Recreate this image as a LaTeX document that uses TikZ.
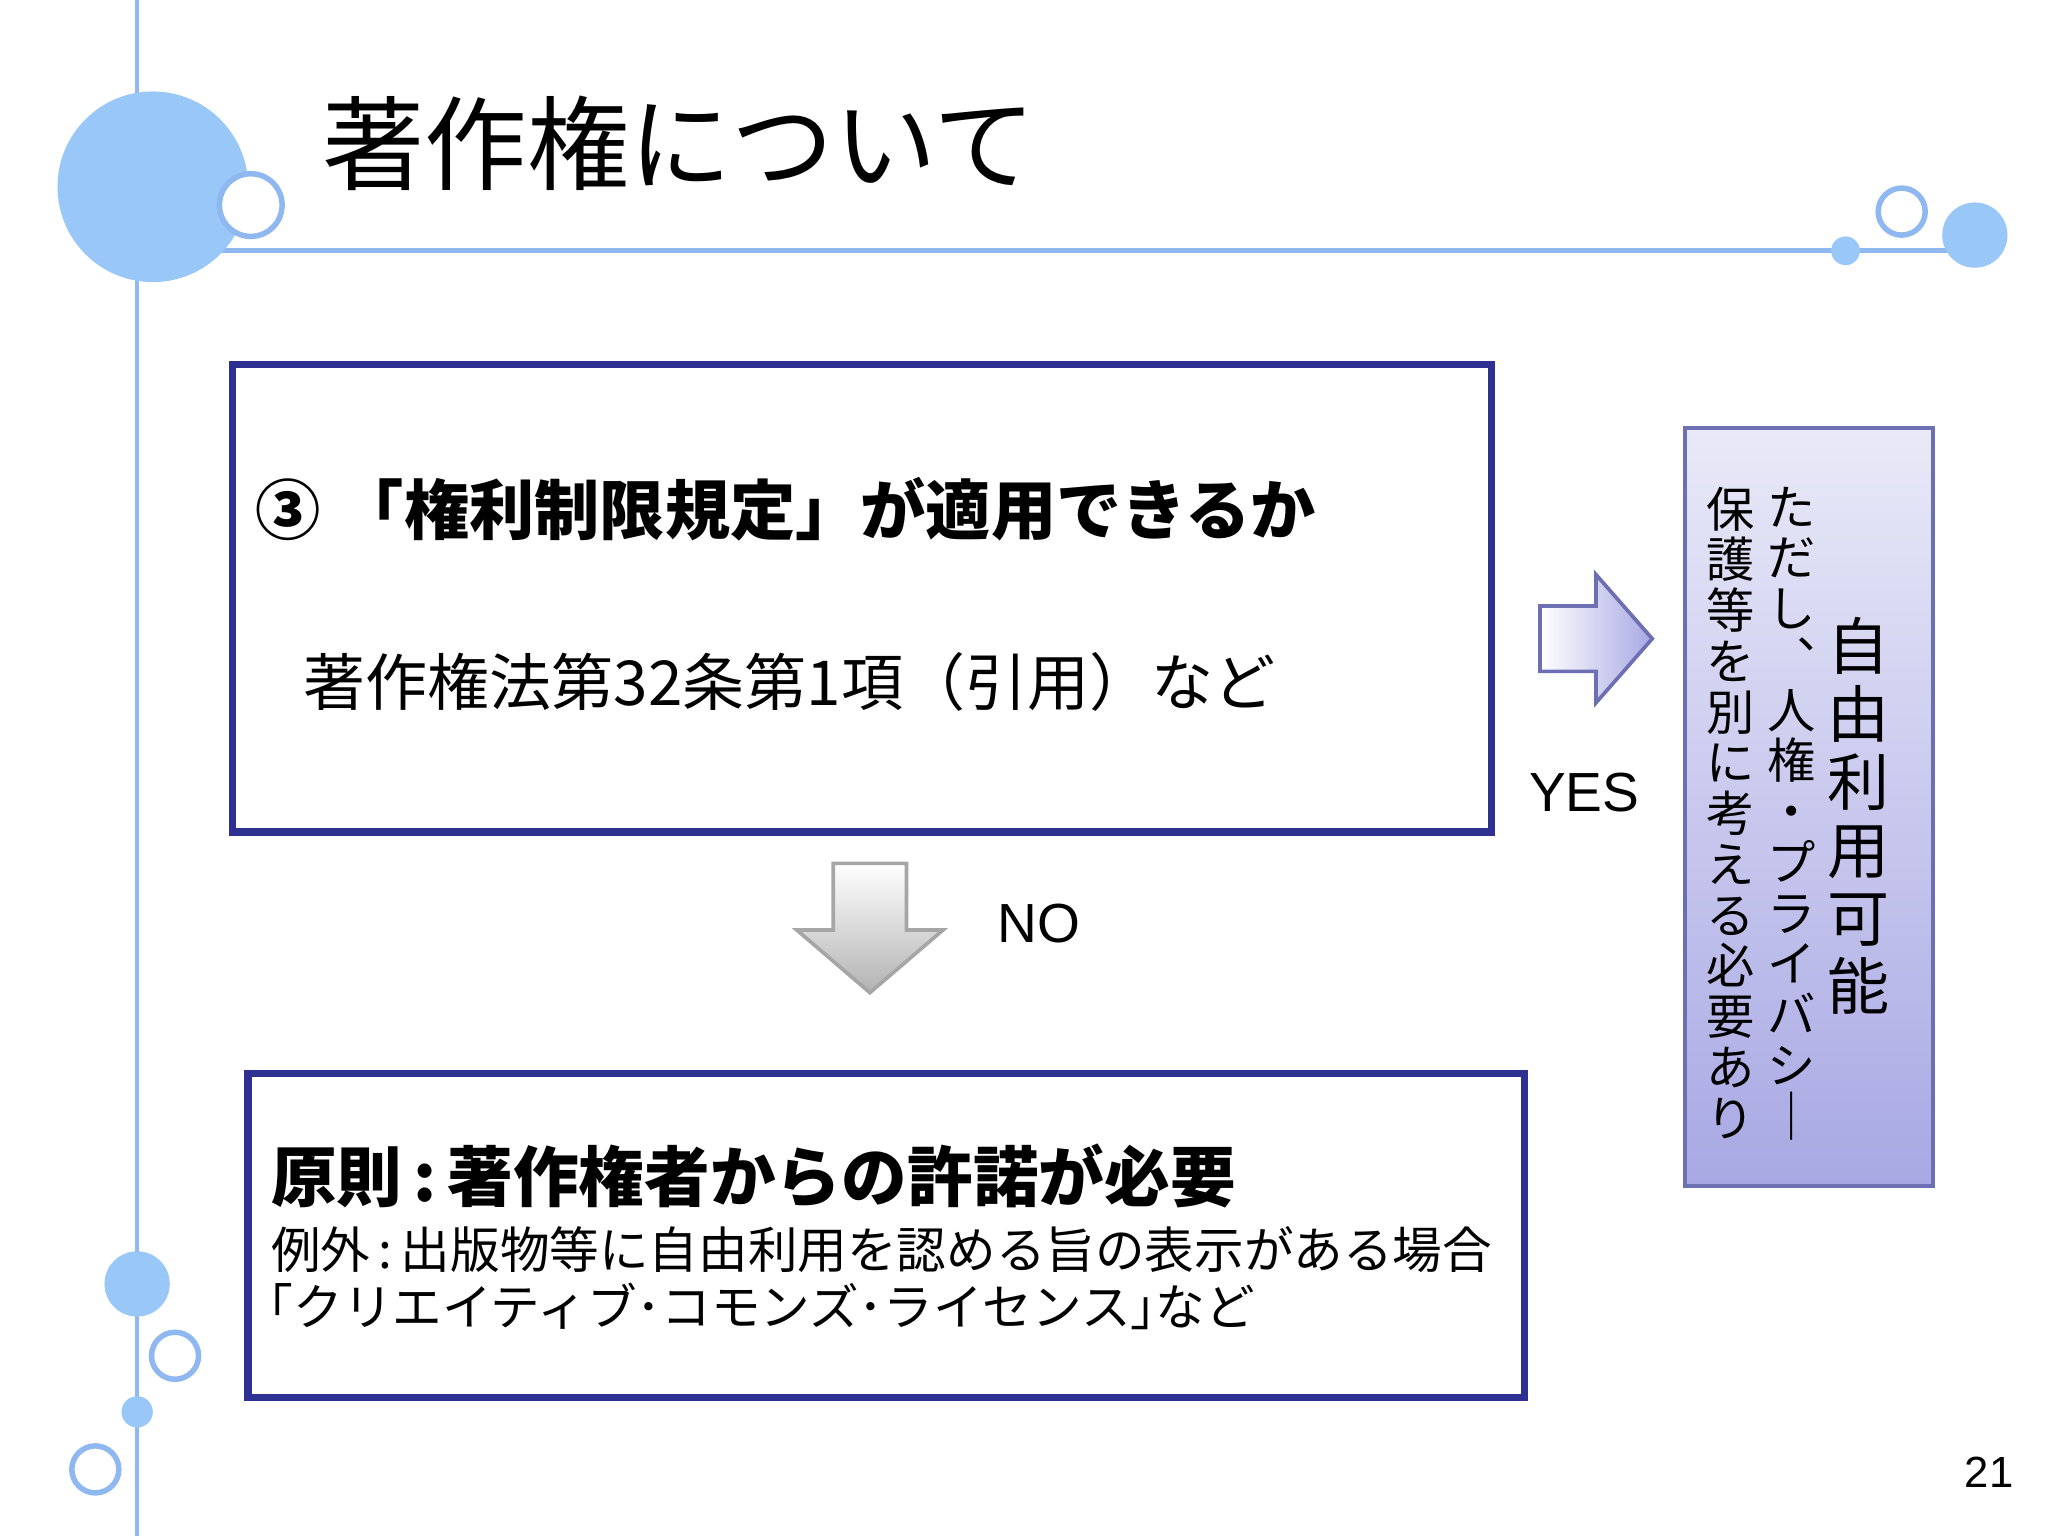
\documentclass[tikz,border=0pt]{standalone}
\usepackage{fontspec}
\setmainfont{Noto Sans CJK JP}
\newfontfamily\latinf{Liberation Sans}
\usetikzlibrary{shadings}
\definecolor{lb}{HTML}{99C8F8}
\definecolor{lbl}{HTML}{8FB8F0}
\definecolor{bx}{HTML}{2E3192}
\definecolor{lav}{HTML}{A8A8E4}
\tikzset{
  dot/.style={fill=lb,draw=none},
  ring/.style={fill=white,draw=lbl,line width=1.2pt},
  mainbox/.style={draw=bx,line width=1.6pt,fill=white},
  txt/.style={inner sep=0pt,anchor=west},
  vcol/.style={inner sep=0pt,align=center,anchor=north}
}
\begin{document}
\begin{tikzpicture}[x=0.01cm,y=-0.01cm]
\useasboundingbox (0,0) rectangle (1568,1176);
% decorations
\draw[lbl,line width=1pt] (105,0) -- (105,1176);
\draw[lbl,line width=1pt] (170,192) -- (1510,192);
\fill[dot] (117,143) circle (73);
\draw[ring] (192,157) circle (24);
\draw[ring] (1456,162) circle (18);
\fill[dot] (1512,180) circle (25);
\fill[dot] (1413,192) circle (11);
\fill[dot] (105,983) circle (25);
\draw[ring] (134,1038) circle (18);
\fill[dot] (105,1081) circle (12);
\draw[ring] (73,1125) circle (18);
% title
\node[txt,font=\fontsize{22.3}{24}\selectfont] (title) at (246,110) {著作権について};
% box1
\draw[mainbox] (178,279) rectangle (1142,637);
\node[txt,font=\fontsize{14.2}{16}\selectfont\bfseries] (q) at (195,390) {③\;「権利制限規定」が適用できるか};
\node[txt,font=\fontsize{13.5}{16}\selectfont] (law) at (232,522) {著作権法第32条第1項（引用）など};
% down arrow
\shade[top color=white,bottom color=gray!60,draw=gray!70,line width=0.8pt]
  (638,661) -- (694,661) -- (694,712) -- (722,712) -- (666,760) -- (610,712) -- (638,712) -- cycle;
\node[txt,font=\latinf\fontsize{12}{14}\selectfont] (no) at (763,707) {NO};
% box2
\draw[mainbox] (190,822) rectangle (1167,1070);
\node[txt,font=\fontsize{14.3}{16}\selectfont\bfseries] (pr) at (207,900) {原則\,:\,著作権者からの許諾が必要};
\node[txt,font=\fontsize{10.8}{13}\selectfont] (ex) at (207,957) {例外\,:\,出版物等に自由利用を認める旨の表示がある場合};
\node[txt,font=\fontsize{10.8}{13}\selectfont] (cc) at (205,1000) {｢クリエイティブ･コモンズ･ライセンス｣など};
% right arrow
\shade[left color=white,right color=lav,draw=bx!70,line width=0.8pt]
  (1179,464) -- (1222,464) -- (1222,440) -- (1265,489) -- (1222,538) -- (1222,514) -- (1179,514) -- cycle;
\node[txt,font=\latinf\fontsize{12}{14}\selectfont] (yes) at (1170,607) {YES};
% vertical box
\shade[top color=lav!25,bottom color=lav] (1290,328) rectangle (1480,908);
\draw[draw=bx!70,line width=0.9pt] (1290,328) rectangle (1480,908);
\node[vcol,font=\fontsize{13.5}{14.8}\selectfont] (free) at (1423,472) {自\\由\\利\\用\\可\\能};
\node[vcol,font=\fontsize{10.5}{11.05}\selectfont] (c2) at (1372,372) {た\\だ\\し\\︑\\人\\権\\・\\プ\\ラ\\イ\\バ\\シ\\｜};
\node[vcol,font=\fontsize{10.5}{11.05}\selectfont] (c3) at (1325,372) {保\\護\\等\\を\\別\\に\\考\\え\\る\\必\\要\\あ\\り};
% page number
\node[font=\latinf\fontsize{9.5}{11}\selectfont] (pg) at (1523,1127) {21};
\end{tikzpicture}
\end{document}
